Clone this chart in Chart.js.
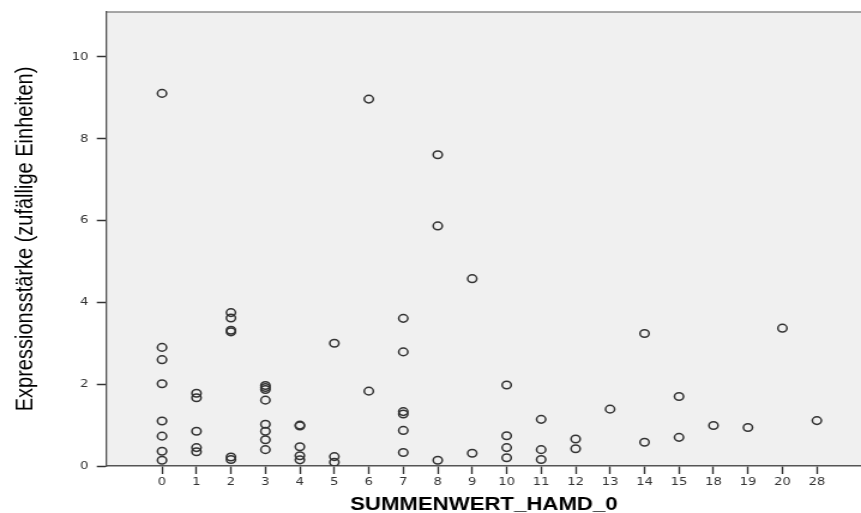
<!DOCTYPE html>
<html>
<head>
<meta charset="utf-8">
<script src="https://cdn.jsdelivr.net/npm/chart.js@4"></script>
<style>
  html, body { margin: 0; padding: 0; background: #fff; overflow: hidden; }
  /* the reference picture is stretched sideways, so the chart is drawn narrower and widened */
  #wrap { width: 718px; height: 513px; transform: scaleX(1.19916); transform-origin: 0 0; }
</style>
</head>
<body>
<div id="wrap"><canvas id="chart"></canvas></div>
<script>
// HAMD sum score categories (x axis is categorical)
const categories = ['0', '1', '2', '3', '4', '5', '6', '7', '8', '9', '10', '11', '12', '13', '14', '15', '18', '19', '20', '28']

// expression values per category, same order as categories
const expression = [
    [9.11, 2.90, 2.60, 2.01, 1.10, 0.73, 0.36, 0.14],
    [1.78, 1.67, 0.85, 0.45, 0.35],
    [3.75, 3.62, 3.32, 3.28, 0.22, 0.16],
    [1.97, 1.92, 1.87, 1.61, 1.02, 0.85, 0.64, 0.40],
    [1.00, 0.98, 0.47, 0.25, 0.15],
    [3.00, 0.23, 0.09],
    [8.97, 1.83],
    [3.61, 2.79, 1.33, 1.27, 0.87, 0.33],
    [7.61, 5.87, 0.14],
    [4.58, 0.31],
    [1.98, 0.74, 0.45, 0.20],
    [1.14, 0.40, 0.16],
    [0.66, 0.42],
    [1.39],
    [3.24, 0.58],
    [1.70, 0.70],
    [0.99],
    [0.94],
    [3.37],
    [1.11]
]

const yTicks = [0, 2, 4, 6, 8, 10]

/**
 * Paints the grey plot background and the thin frame line on top.
 */
const plotFrame = {
    id: 'plotFrame',
    beforeDraw (chart) {
        const { ctx, chartArea: a } = chart
        ctx.save()
        ctx.fillStyle = '#f0f0f0'
        ctx.fillRect(a.left, a.top, a.right - a.left, a.bottom - a.top)
        ctx.strokeStyle = '#8a8a8a'
        ctx.lineWidth = 1.6
        ctx.beginPath()
        ctx.moveTo(a.left, a.top)
        ctx.lineTo(a.right, a.top)
        ctx.stroke()
        ctx.restore()
    }
}

function buildPoints () {
    let pts = []
    expression.forEach((vals, i) => {
        vals.forEach((v) => pts.push({ x: i, y: v }))
    })
    return pts
}

new Chart(document.getElementById('chart').getContext('2d'), {
    type: 'scatter',
    data: {
        datasets: [{
            data: buildPoints(),
            pointStyle: 'circle',
            pointRadius: 3.8,
            pointHoverRadius: 3.8,
            pointBorderWidth: 1.5,
            borderColor: '#333',
            backgroundColor: 'rgba(0,0,0,0)'
        }]
    },
    options: {
        responsive: true,
        maintainAspectRatio: false,
        animation: false,
        layout: { autoPadding: false, padding: { top: 12, right: 0, left: 0, bottom: 0 } },
        plugins: {
            legend: { display: false },
            tooltip: { enabled: false }
        },
        scales: {
            x: {
                type: 'linear',
                min: -1.604,
                max: 20.28,
                afterBuildTicks: (axis) => {
                    axis.ticks = axis.ticks.filter(t => t.value >= 0 && t.value < categories.length)
                },
                afterFit: (axis) => {
                    axis.height = 47
                    axis.paddingLeft = 0
                    axis.paddingRight = 0
                },
                ticks: {
                    stepSize: 1,
                    includeBounds: false,
                    autoSkip: false,
                    maxRotation: 0,
                    padding: 2,
                    color: '#333',
                    font: { family: 'DejaVu Sans', size: 11 },
                    callback: (v) => categories[v]
                },
                grid: {
                    drawOnChartArea: false,
                    drawTicks: true,
                    tickLength: 8,
                    tickColor: '#333',
                    tickWidth: 1.4
                },
                border: { display: true, color: '#555', width: 1.5 },
                title: {
                    display: true,
                    text: 'SUMMENWERT_HAMD_0',
                    color: '#000',
                    font: { family: 'Liberation Sans', size: 18.5, weight: 'bold', lineHeight: 1 },
                    padding: { top: 0, bottom: -1 }
                }
            },
            y: {
                type: 'linear',
                min: 0,
                max: 11.1,
                afterBuildTicks: (axis) => {
                    axis.ticks = yTicks.map(v => ({ value: v }))
                },
                afterFit: (axis) => {
                    axis.width = 89
                    axis.paddingTop = 0
                    axis.paddingBottom = 0
                },
                ticks: {
                    stepSize: 2,
                    includeBounds: false,
                    padding: 7,
                    color: '#333',
                    font: { family: 'DejaVu Sans', size: 11 }
                },
                grid: {
                    drawOnChartArea: false,
                    drawTicks: true,
                    tickLength: 8.3,
                    tickColor: '#333',
                    tickWidth: 1.5
                },
                border: { display: true, color: '#555', width: 1.3 },
                title: {
                    display: true,
                    text: 'Expressionsstärke (zufällige Einheiten)',
                    color: '#000',
                    font: { family: 'Liberation Sans', size: 20 },
                    padding: { top: 9, bottom: 0 }
                }
            }
        }
    },
    plugins: [plotFrame]
})
</script>
</body>
</html>
